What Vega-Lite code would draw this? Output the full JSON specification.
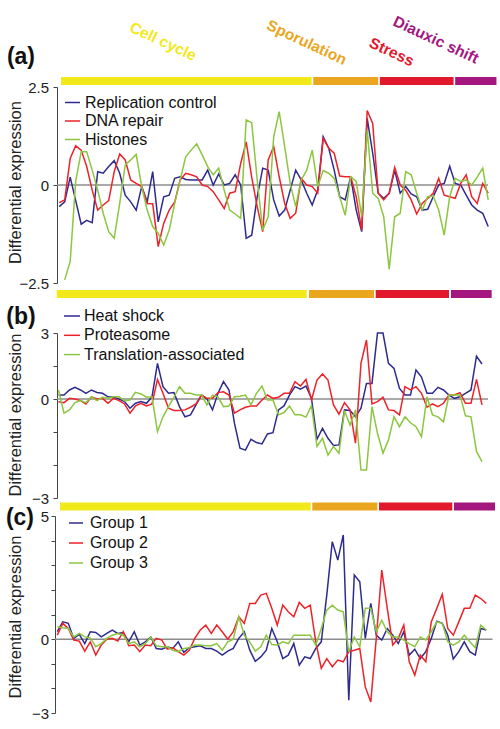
{
  "$schema": "https://vega.github.io/schema/vega-lite/v6.json",
  "width": 440,
  "height": 729,
  "autosize": {"type": "none"},
  "padding": {"left": 57, "top": 0, "right": 3, "bottom": 0},
  "background": "white",
  "config": {
    "view": {"stroke": null},
    "font": "Liberation Sans",
    "axis": {"labelFont": "Liberation Sans", "titleFont": "Liberation Sans", "labelFontSize": 15, "titleFontSize": 16.5, "titleFontWeight": "normal", "labelColor": "#222", "titleColor": "#222", "domainColor": "#444", "tickColor": "#444", "tickSize": 4, "grid": false},
    "legend": {"labelFont": "Liberation Sans", "labelFontSize": 16, "labelColor": "#111", "labelLimit": 0}
  },
  "datasets": {
    "phases": [
      {"panel": "a", "phase": "Cell cycle", "start": 1.33, "end": 46.9},
      {"panel": "a", "phase": "Sporulation", "start": 47.2, "end": 59.0},
      {"panel": "a", "phase": "Stress", "start": 59.3, "end": 72.7},
      {"panel": "a", "phase": "Diauxic shift", "start": 73.0, "end": 80.5},
      {"panel": "b", "phase": "Cell cycle", "start": 0.68, "end": 46.13},
      {"panel": "b", "phase": "Sporulation", "start": 46.55, "end": 58.37},
      {"panel": "b", "phase": "Stress", "start": 58.68, "end": 72.0},
      {"panel": "b", "phase": "Diauxic shift", "start": 72.36, "end": 79.76},
      {"panel": "c", "phase": "Cell cycle", "start": 1.5, "end": 47.08},
      {"panel": "c", "phase": "Sporulation", "start": 47.37, "end": 59.19},
      {"panel": "c", "phase": "Stress", "start": 59.5, "end": 72.82},
      {"panel": "c", "phase": "Diauxic shift", "start": 73.13, "end": 80.59}
    ],
    "phaseLabels": [
      {"phase": "Cell cycle", "lx": 19.87, "ly": 3.66},
      {"phase": "Sporulation", "lx": 46.0, "ly": 3.635},
      {"phase": "Stress", "lx": 61.45, "ly": 3.393},
      {"phase": "Diauxic shift", "lx": 69.5, "ly": 3.70}
    ],
    "a": [
      {"i":1,"Replication control":-0.55,"DNA repair":-0.45,"Histones":null},
      {"i":2,"Replication control":-0.43,"DNA repair":-0.38,"Histones":-2.42},
      {"i":3,"Replication control":0.2,"DNA repair":0.68,"Histones":-1.95},
      {"i":4,"Replication control":-0.4,"DNA repair":1.0,"Histones":0.1},
      {"i":5,"Replication control":-1.0,"DNA repair":0.89,"Histones":0.85},
      {"i":6,"Replication control":-0.9,"DNA repair":0.47,"Histones":0.85},
      {"i":7,"Replication control":-0.96,"DNA repair":-0.13,"Histones":0.38},
      {"i":8,"Replication control":0.34,"DNA repair":-0.64,"Histones":-0.13},
      {"i":9,"Replication control":0.3,"DNA repair":-0.51,"Histones":-0.72},
      {"i":10,"Replication control":0.47,"DNA repair":-0.4,"Histones":-1.19},
      {"i":11,"Replication control":0.62,"DNA repair":0.34,"Histones":-1.36},
      {"i":12,"Replication control":0.3,"DNA repair":0.79,"Histones":-0.47},
      {"i":13,"Replication control":-0.26,"DNA repair":0.64,"Histones":0.51},
      {"i":14,"Replication control":-0.43,"DNA repair":0.13,"Histones":0.64},
      {"i":15,"Replication control":-0.64,"DNA repair":0.04,"Histones":0.78},
      {"i":16,"Replication control":-0.04,"DNA repair":-0.04,"Histones":-0.04},
      {"i":17,"Replication control":-0.43,"DNA repair":-0.47,"Histones":-0.64},
      {"i":18,"Replication control":0.34,"DNA repair":-0.48,"Histones":-1.06},
      {"i":19,"Replication control":-0.94,"DNA repair":-1.57,"Histones":-1.23},
      {"i":20,"Replication control":-0.3,"DNA repair":-0.98,"Histones":-1.53},
      {"i":21,"Replication control":-0.26,"DNA repair":-0.64,"Histones":-1.15},
      {"i":22,"Replication control":0.17,"DNA repair":-0.43,"Histones":-0.47},
      {"i":23,"Replication control":0.21,"DNA repair":0.13,"Histones":0.13},
      {"i":24,"Replication control":0.14,"DNA repair":0.3,"Histones":0.72},
      {"i":25,"Replication control":0.13,"DNA repair":0.26,"Histones":0.89},
      {"i":26,"Replication control":0.13,"DNA repair":0.21,"Histones":1.05},
      {"i":27,"Replication control":0.13,"DNA repair":0.0,"Histones":0.77},
      {"i":28,"Replication control":0.38,"DNA repair":-0.04,"Histones":0.47},
      {"i":29,"Replication control":0.0,"DNA repair":-0.17,"Histones":0.26},
      {"i":30,"Replication control":0.28,"DNA repair":-0.38,"Histones":0.43},
      {"i":31,"Replication control":0.0,"DNA repair":-0.6,"Histones":-0.13},
      {"i":32,"Replication control":0.04,"DNA repair":-0.21,"Histones":-0.64},
      {"i":33,"Replication control":0.26,"DNA repair":-0.17,"Histones":-0.74},
      {"i":34,"Replication control":0.0,"DNA repair":0.55,"Histones":-0.85},
      {"i":35,"Replication control":-1.36,"DNA repair":1.1,"Histones":1.66},
      {"i":36,"Replication control":-1.28,"DNA repair":0.2,"Histones":1.59},
      {"i":37,"Replication control":-0.3,"DNA repair":-0.55,"Histones":0.13},
      {"i":38,"Replication control":0.43,"DNA repair":-1.19,"Histones":-1.15},
      {"i":39,"Replication control":0.38,"DNA repair":0.64,"Histones":-0.81},
      {"i":40,"Replication control":-0.38,"DNA repair":0.98,"Histones":1.23},
      {"i":41,"Replication control":-0.79,"DNA repair":0.21,"Histones":1.87},
      {"i":42,"Replication control":-0.64,"DNA repair":-0.47,"Histones":0.98},
      {"i":43,"Replication control":-0.13,"DNA repair":-0.85,"Histones":0.04},
      {"i":44,"Replication control":0.38,"DNA repair":-0.72,"Histones":-0.55},
      {"i":45,"Replication control":0.13,"DNA repair":0.17,"Histones":0.13},
      {"i":46,"Replication control":-0.21,"DNA repair":0.0,"Histones":0.38},
      {"i":47,"Replication control":-0.51,"DNA repair":-0.04,"Histones":0.89},
      {"i":48,"Replication control":-0.13,"DNA repair":-0.21,"Histones":-0.04},
      {"i":49,"Replication control":1.23,"DNA repair":1.19,"Histones":0.37},
      {"i":50,"Replication control":0.94,"DNA repair":0.94,"Histones":0.3},
      {"i":51,"Replication control":0.38,"DNA repair":0.81,"Histones":0.17},
      {"i":52,"Replication control":-0.3,"DNA repair":0.23,"Histones":-0.3},
      {"i":53,"Replication control":-0.38,"DNA repair":0.21,"Histones":-0.77},
      {"i":54,"Replication control":0.21,"DNA repair":0.21,"Histones":0.21},
      {"i":55,"Replication control":-0.64,"DNA repair":-0.3,"Histones":0.09},
      {"i":56,"Replication control":-1.19,"DNA repair":-1.15,"Histones":-0.81},
      {"i":57,"Replication control":1.7,"DNA repair":1.9,"Histones":1.4},
      {"i":58,"Replication control":0.81,"DNA repair":1.57,"Histones":-0.21},
      {"i":59,"Replication control":-0.21,"DNA repair":-0.21,"Histones":-0.34},
      {"i":60,"Replication control":-0.34,"DNA repair":-0.38,"Histones":-0.81},
      {"i":61,"Replication control":-0.21,"DNA repair":-0.21,"Histones":-2.15},
      {"i":62,"Replication control":0.38,"DNA repair":0.45,"Histones":-0.81},
      {"i":63,"Replication control":-0.21,"DNA repair":0.0,"Histones":-0.72},
      {"i":64,"Replication control":-0.04,"DNA repair":-0.13,"Histones":0.34},
      {"i":65,"Replication control":-0.23,"DNA repair":-0.38,"Histones":0.26},
      {"i":66,"Replication control":-0.3,"DNA repair":-0.74,"Histones":-0.21},
      {"i":67,"Replication control":-0.64,"DNA repair":-0.47,"Histones":-0.64},
      {"i":68,"Replication control":-0.62,"DNA repair":-0.34,"Histones":-0.3},
      {"i":69,"Replication control":-0.3,"DNA repair":-0.21,"Histones":-0.28},
      {"i":70,"Replication control":0.0,"DNA repair":0.17,"Histones":-0.64},
      {"i":71,"Replication control":0.04,"DNA repair":-0.26,"Histones":-1.28},
      {"i":72,"Replication control":0.48,"DNA repair":-0.3,"Histones":-0.3},
      {"i":73,"Replication control":0.04,"DNA repair":-0.34,"Histones":0.17},
      {"i":74,"Replication control":0.0,"DNA repair":0.04,"Histones":0.09},
      {"i":75,"Replication control":-0.26,"DNA repair":0.26,"Histones":0.13},
      {"i":76,"Replication control":-0.51,"DNA repair":-0.3,"Histones":0.0},
      {"i":77,"Replication control":-0.64,"DNA repair":-0.47,"Histones":0.2},
      {"i":78,"Replication control":-0.72,"DNA repair":0.04,"Histones":0.43},
      {"i":79,"Replication control":-1.06,"DNA repair":-0.21,"Histones":-0.38}
    ],
    "b": [
      {"i":1,"Heat shock":0.18,"Proteasome":-0.08,"Translation-associated":0.41},
      {"i":2,"Heat shock":0.18,"Proteasome":-0.11,"Translation-associated":-0.43},
      {"i":3,"Heat shock":0.41,"Proteasome":0.03,"Translation-associated":-0.33},
      {"i":4,"Heat shock":0.53,"Proteasome":0.0,"Translation-associated":-0.11},
      {"i":5,"Heat shock":0.41,"Proteasome":-0.05,"Translation-associated":-0.05},
      {"i":6,"Heat shock":0.26,"Proteasome":-0.15,"Translation-associated":-0.11},
      {"i":7,"Heat shock":0.41,"Proteasome":0.1,"Translation-associated":0.1},
      {"i":8,"Heat shock":0.3,"Proteasome":0.0,"Translation-associated":-0.05},
      {"i":9,"Heat shock":0.26,"Proteasome":0.03,"Translation-associated":0.08},
      {"i":10,"Heat shock":0.1,"Proteasome":-0.13,"Translation-associated":0.03},
      {"i":11,"Heat shock":0.08,"Proteasome":0.03,"Translation-associated":0.1},
      {"i":12,"Heat shock":0.0,"Proteasome":-0.05,"Translation-associated":0.1},
      {"i":13,"Heat shock":-0.08,"Proteasome":-0.15,"Translation-associated":-0.05},
      {"i":14,"Heat shock":-0.28,"Proteasome":-0.43,"Translation-associated":-0.03},
      {"i":15,"Heat shock":-0.13,"Proteasome":-0.21,"Translation-associated":0.3},
      {"i":16,"Heat shock":-0.08,"Proteasome":-0.13,"Translation-associated":0.23},
      {"i":17,"Heat shock":-0.13,"Proteasome":-0.21,"Translation-associated":0.08},
      {"i":18,"Heat shock":0.1,"Proteasome":-0.15,"Translation-associated":0.1},
      {"i":19,"Heat shock":1.62,"Proteasome":0.89,"Translation-associated":-0.99},
      {"i":20,"Heat shock":0.56,"Proteasome":0.26,"Translation-associated":-0.54},
      {"i":21,"Heat shock":0.26,"Proteasome":-0.28,"Translation-associated":-0.23},
      {"i":22,"Heat shock":0.29,"Proteasome":-0.35,"Translation-associated":0.08},
      {"i":23,"Heat shock":-0.23,"Proteasome":-0.35,"Translation-associated":0.56},
      {"i":24,"Heat shock":-0.54,"Proteasome":-0.33,"Translation-associated":0.26},
      {"i":25,"Heat shock":-0.48,"Proteasome":-0.25,"Translation-associated":0.26},
      {"i":26,"Heat shock":-0.18,"Proteasome":-0.15,"Translation-associated":0.18},
      {"i":27,"Heat shock":0.18,"Proteasome":0.18,"Translation-associated":0.18},
      {"i":28,"Heat shock":0.0,"Proteasome":0.03,"Translation-associated":-0.18},
      {"i":29,"Heat shock":-0.33,"Proteasome":0.03,"Translation-associated":0.18},
      {"i":30,"Heat shock":0.26,"Proteasome":0.29,"Translation-associated":0.1},
      {"i":31,"Heat shock":0.79,"Proteasome":0.33,"Translation-associated":-0.23},
      {"i":32,"Heat shock":0.41,"Proteasome":0.18,"Translation-associated":-0.21},
      {"i":33,"Heat shock":-0.74,"Proteasome":-0.43,"Translation-associated":0.1},
      {"i":34,"Heat shock":-1.49,"Proteasome":-0.33,"Translation-associated":0.13},
      {"i":35,"Heat shock":-1.55,"Proteasome":-0.25,"Translation-associated":0.18},
      {"i":36,"Heat shock":-1.22,"Proteasome":-0.21,"Translation-associated":-0.18},
      {"i":37,"Heat shock":-1.32,"Proteasome":-0.21,"Translation-associated":0.26},
      {"i":38,"Heat shock":-1.36,"Proteasome":-0.03,"Translation-associated":0.59},
      {"i":39,"Heat shock":-1.06,"Proteasome":0.18,"Translation-associated":-0.03},
      {"i":40,"Heat shock":-1.02,"Proteasome":0.03,"Translation-associated":-0.03},
      {"i":41,"Heat shock":-0.33,"Proteasome":0.08,"Translation-associated":-0.48},
      {"i":42,"Heat shock":-0.21,"Proteasome":0.26,"Translation-associated":-0.41},
      {"i":43,"Heat shock":0.18,"Proteasome":0.26,"Translation-associated":-0.21},
      {"i":44,"Heat shock":0.56,"Proteasome":0.79,"Translation-associated":-0.48},
      {"i":45,"Heat shock":0.45,"Proteasome":0.59,"Translation-associated":-0.48},
      {"i":46,"Heat shock":0.59,"Proteasome":0.89,"Translation-associated":-0.55},
      {"i":47,"Heat shock":0.03,"Proteasome":-0.03,"Translation-associated":-0.2},
      {"i":48,"Heat shock":-1.22,"Proteasome":0.86,"Translation-associated":-1.44},
      {"i":49,"Heat shock":-0.89,"Proteasome":1.14,"Translation-associated":-1.19},
      {"i":50,"Heat shock":-1.19,"Proteasome":0.86,"Translation-associated":-1.7},
      {"i":51,"Heat shock":-1.41,"Proteasome":-0.18,"Translation-associated":-1.44},
      {"i":52,"Heat shock":-1.39,"Proteasome":-0.46,"Translation-associated":-1.64},
      {"i":53,"Heat shock":-0.33,"Proteasome":-0.11,"Translation-associated":-0.35},
      {"i":54,"Heat shock":-0.35,"Proteasome":-0.33,"Translation-associated":-0.79},
      {"i":55,"Heat shock":-0.54,"Proteasome":-1.34,"Translation-associated":-0.33},
      {"i":56,"Heat shock":-0.28,"Proteasome":1.62,"Translation-associated":-2.15},
      {"i":57,"Heat shock":0.71,"Proteasome":2.68,"Translation-associated":-2.15},
      {"i":58,"Heat shock":0.71,"Proteasome":-0.15,"Translation-associated":-0.23},
      {"i":59,"Heat shock":3.0,"Proteasome":-0.08,"Translation-associated":-1.04},
      {"i":60,"Heat shock":3.0,"Proteasome":0.08,"Translation-associated":-1.64},
      {"i":61,"Heat shock":1.62,"Proteasome":-0.33,"Translation-associated":-1.24},
      {"i":62,"Heat shock":1.39,"Proteasome":-0.35,"Translation-associated":-0.54},
      {"i":63,"Heat shock":0.48,"Proteasome":-0.48,"Translation-associated":-0.84},
      {"i":64,"Heat shock":0.18,"Proteasome":0.56,"Translation-associated":-0.54},
      {"i":65,"Heat shock":0.18,"Proteasome":0.41,"Translation-associated":-0.72},
      {"i":66,"Heat shock":1.32,"Proteasome":0.56,"Translation-associated":-0.84},
      {"i":67,"Heat shock":1.0,"Proteasome":0.26,"Translation-associated":-1.14},
      {"i":68,"Heat shock":0.26,"Proteasome":-0.25,"Translation-associated":0.1},
      {"i":69,"Heat shock":0.26,"Proteasome":-0.15,"Translation-associated":-0.48},
      {"i":70,"Heat shock":0.53,"Proteasome":-0.23,"Translation-associated":-0.54},
      {"i":71,"Heat shock":0.41,"Proteasome":-0.13,"Translation-associated":-0.69},
      {"i":72,"Heat shock":0.18,"Proteasome":0.18,"Translation-associated":0.18},
      {"i":73,"Heat shock":0.03,"Proteasome":0.18,"Translation-associated":0.18},
      {"i":74,"Heat shock":0.1,"Proteasome":0.29,"Translation-associated":0.18},
      {"i":75,"Heat shock":0.26,"Proteasome":-0.13,"Translation-associated":-0.51},
      {"i":76,"Heat shock":0.41,"Proteasome":-0.13,"Translation-associated":-0.54},
      {"i":77,"Heat shock":1.95,"Proteasome":0.89,"Translation-associated":-1.59},
      {"i":78,"Heat shock":1.59,"Proteasome":-0.18,"Translation-associated":-1.9}
    ],
    "c": [
      {"i":1,"Group 1":0.3,"Group 2":0.16,"Group 3":0.5},
      {"i":2,"Group 1":0.7,"Group 2":0.64,"Group 3":0.46},
      {"i":3,"Group 1":0.64,"Group 2":0.43,"Group 3":0.43},
      {"i":4,"Group 1":0.03,"Group 2":-0.04,"Group 3":0.09},
      {"i":5,"Group 1":0.19,"Group 2":-0.08,"Group 3":0.23},
      {"i":6,"Group 1":-0.18,"Group 2":-0.49,"Group 3":0.09},
      {"i":7,"Group 1":0.3,"Group 2":-0.11,"Group 3":0.05},
      {"i":8,"Group 1":0.27,"Group 2":-0.65,"Group 3":-0.31},
      {"i":9,"Group 1":0.09,"Group 2":-0.24,"Group 3":-0.18},
      {"i":10,"Group 1":0.23,"Group 2":0.0,"Group 3":0.03},
      {"i":11,"Group 1":0.37,"Group 2":0.03,"Group 3":0.16},
      {"i":12,"Group 1":0.23,"Group 2":-0.08,"Group 3":0.23},
      {"i":13,"Group 1":0.27,"Group 2":0.3,"Group 3":0.16},
      {"i":14,"Group 1":-0.11,"Group 2":-0.27,"Group 3":-0.18},
      {"i":15,"Group 1":0.3,"Group 2":-0.24,"Group 3":-0.11},
      {"i":16,"Group 1":-0.24,"Group 2":-0.51,"Group 3":-0.31},
      {"i":17,"Group 1":-0.11,"Group 2":-0.24,"Group 3":-0.18},
      {"i":18,"Group 1":0.09,"Group 2":-0.27,"Group 3":0.09},
      {"i":19,"Group 1":-0.38,"Group 2":0.03,"Group 3":-0.27},
      {"i":20,"Group 1":-0.41,"Group 2":-0.04,"Group 3":-0.31},
      {"i":21,"Group 1":-0.31,"Group 2":-0.41,"Group 3":-0.31},
      {"i":22,"Group 1":-0.38,"Group 2":-0.35,"Group 3":-0.45},
      {"i":23,"Group 1":-0.11,"Group 2":-0.51,"Group 3":-0.51},
      {"i":24,"Group 1":-0.54,"Group 2":-0.65,"Group 3":-0.38},
      {"i":25,"Group 1":-0.35,"Group 2":-0.45,"Group 3":-0.35},
      {"i":26,"Group 1":-0.31,"Group 2":0.03,"Group 3":-0.24},
      {"i":27,"Group 1":-0.27,"Group 2":0.37,"Group 3":-0.24},
      {"i":28,"Group 1":-0.38,"Group 2":0.57,"Group 3":-0.27},
      {"i":29,"Group 1":-0.38,"Group 2":0.23,"Group 3":-0.27},
      {"i":30,"Group 1":-0.49,"Group 2":0.57,"Group 3":-0.18},
      {"i":31,"Group 1":-0.65,"Group 2":0.3,"Group 3":-0.45},
      {"i":32,"Group 1":-0.49,"Group 2":0.0,"Group 3":-0.11},
      {"i":33,"Group 1":-0.38,"Group 2":0.3,"Group 3":0.0},
      {"i":34,"Group 1":0.03,"Group 2":0.91,"Group 3":0.91},
      {"i":35,"Group 1":0.3,"Group 2":0.64,"Group 3":0.16},
      {"i":36,"Group 1":-0.45,"Group 2":1.45,"Group 3":-0.11},
      {"i":37,"Group 1":-0.9,"Group 2":1.45,"Group 3":-0.49},
      {"i":38,"Group 1":-0.72,"Group 2":1.79,"Group 3":-0.31},
      {"i":39,"Group 1":-0.45,"Group 2":1.86,"Group 3":0.16},
      {"i":40,"Group 1":0.43,"Group 2":1.25,"Group 3":-0.22},
      {"i":41,"Group 1":-0.11,"Group 2":0.57,"Group 3":-0.24},
      {"i":42,"Group 1":-0.79,"Group 2":1.38,"Group 3":-0.11},
      {"i":43,"Group 1":-0.65,"Group 2":1.11,"Group 3":-0.18},
      {"i":44,"Group 1":-0.18,"Group 2":0.91,"Group 3":0.16},
      {"i":45,"Group 1":-1.06,"Group 2":1.49,"Group 3":0.16},
      {"i":46,"Group 1":-0.72,"Group 2":1.25,"Group 3":0.16},
      {"i":47,"Group 1":-0.79,"Group 2":1.38,"Group 3":0.16},
      {"i":48,"Group 1":-0.38,"Group 2":-0.11,"Group 3":-0.24},
      {"i":49,"Group 1":-0.11,"Group 2":-1.19,"Group 3":0.43},
      {"i":50,"Group 1":1.79,"Group 2":-0.79,"Group 3":1.18},
      {"i":51,"Group 1":3.96,"Group 2":-1.12,"Group 3":1.38},
      {"i":52,"Group 1":3.21,"Group 2":-0.85,"Group 3":1.18},
      {"i":53,"Group 1":4.23,"Group 2":-0.92,"Group 3":1.11},
      {"i":54,"Group 1":-2.48,"Group 2":-0.51,"Group 3":-0.51},
      {"i":55,"Group 1":2.6,"Group 2":-0.45,"Group 3":0.09},
      {"i":56,"Group 1":2.33,"Group 2":-0.38,"Group 3":-0.31},
      {"i":57,"Group 1":0.03,"Group 2":-1.94,"Group 3":1.25},
      {"i":58,"Group 1":1.45,"Group 2":-2.55,"Group 3":1.25},
      {"i":59,"Group 1":0.16,"Group 2":0.03,"Group 3":0.3},
      {"i":60,"Group 1":-0.04,"Group 2":2.8,"Group 3":0.77},
      {"i":61,"Group 1":0.43,"Group 2":1.25,"Group 3":0.3},
      {"i":62,"Group 1":0.16,"Group 2":-0.24,"Group 3":0.09},
      {"i":63,"Group 1":-0.18,"Group 2":0.03,"Group 3":0.09},
      {"i":64,"Group 1":0.3,"Group 2":0.57,"Group 3":-0.04},
      {"i":65,"Group 1":-0.65,"Group 2":-0.92,"Group 3":-0.18},
      {"i":66,"Group 1":-0.41,"Group 2":-1.46,"Group 3":-0.31},
      {"i":67,"Group 1":-0.79,"Group 2":-0.65,"Group 3":0.09},
      {"i":68,"Group 1":-0.51,"Group 2":-0.92,"Group 3":-0.04},
      {"i":69,"Group 1":0.03,"Group 2":0.7,"Group 3":0.3},
      {"i":70,"Group 1":0.73,"Group 2":1.25,"Group 3":0.7},
      {"i":71,"Group 1":0.64,"Group 2":1.82,"Group 3":0.64},
      {"i":72,"Group 1":0.16,"Group 2":0.43,"Group 3":-0.11},
      {"i":73,"Group 1":-0.81,"Group 2":0.16,"Group 3":-0.24},
      {"i":74,"Group 1":-0.51,"Group 2":0.7,"Group 3":-0.11},
      {"i":75,"Group 1":-0.11,"Group 2":1.25,"Group 3":0.16},
      {"i":76,"Group 1":-0.51,"Group 2":1.25,"Group 3":-0.11},
      {"i":77,"Group 1":-0.65,"Group 2":1.79,"Group 3":-0.35},
      {"i":78,"Group 1":0.43,"Group 2":1.65,"Group 3":0.57},
      {"i":79,"Group 1":0.37,"Group 2":1.45,"Group 3":0.37}
    ]
  },
  "resolve": {
    "scale": {"x": "independent", "y": "independent", "color": "independent"},
    "axis": {"x": "independent", "y": "independent"},
    "legend": {"color": "independent"}
  },
  "layer": [
    {
      "layer": [
        {
          "data": {"name": "phases"},
          "transform": [{"filter": "datum.panel == 'a'"}],
          "mark": {"type": "rule", "strokeWidth": 8},
          "encoding": {
            "x": {"field": "start", "type": "quantitative", "scale": {"domain": [0.6, 80.6], "nice": false, "zero": false}, "axis": null},
            "x2": {"field": "end"},
            "y": {"datum": 2.653, "type": "quantitative", "scale": {"domain": [-2.5, 2.5], "range": [283, 87], "nice": false, "zero": false},
              "axis": {"orient": "left", "values": [-2.5, 0, 2.5], "format": ".1~f", "title": "Differential expression", "titleX": -36.5, "titleY": 182, "titleAngle": -90, "titleBaseline": "alphabetic", "titleAlign": "center", "labelPadding": 4.5, "tickSize": 4}},
            "stroke": {"field": "phase", "type": "nominal", "scale": {"domain": ["Cell cycle", "Sporulation", "Stress", "Diauxic shift"], "range": ["#f2e91a", "#eaa61e", "#e2182d", "#a3177f"]}, "legend": null}
          }
        },
        {
          "data": {"name": "phaseLabels"},
          "mark": {"type": "text", "angle": 25, "fontWeight": "bold", "fontSize": 15.5, "align": "center", "baseline": "middle", "font": "Liberation Sans"},
          "encoding": {
            "x": {"field": "lx", "type": "quantitative", "scale": {"domain": [0.6, 80.6], "nice": false, "zero": false}, "axis": null},
            "y": {"field": "ly", "type": "quantitative", "scale": {"domain": [-2.5, 2.5], "range": [283, 87], "nice": false, "zero": false},
              "axis": {"orient": "left", "values": [-2.5, 0, 2.5], "format": ".1~f", "title": "Differential expression", "titleX": -36.5, "titleY": 182, "titleAngle": -90, "titleBaseline": "alphabetic", "titleAlign": "center", "labelPadding": 4.5, "tickSize": 4}},
            "text": {"field": "phase"},
            "fill": {"field": "phase", "type": "nominal", "scale": {"domain": ["Cell cycle", "Sporulation", "Stress", "Diauxic shift"], "range": ["#f2e91a", "#eaa61e", "#e2182d", "#a3177f"]}, "legend": null}
          }
        },
        {
          "data": {"values": [{"tag": "(a)"}]},
          "mark": {"type": "text", "fontWeight": "bold", "fontSize": 23, "align": "center", "baseline": "middle", "color": "#111", "font": "Liberation Sans"},
          "encoding": {
            "x": {"datum": -5.95, "type": "quantitative", "scale": {"domain": [0.6, 80.6], "nice": false, "zero": false}, "axis": null},
            "y": {"datum": 3.253, "type": "quantitative", "scale": {"domain": [-2.5, 2.5], "range": [283, 87], "nice": false, "zero": false},
              "axis": {"orient": "left", "values": [-2.5, 0, 2.5], "format": ".1~f", "title": "Differential expression", "titleX": -36.5, "titleY": 182, "titleAngle": -90, "titleBaseline": "alphabetic", "titleAlign": "center", "labelPadding": 4.5, "tickSize": 4}},
            "text": {"field": "tag"}
          }
        },
        {
          "data": {"values": [{"ref": "zero"}]},
          "mark": {"type": "rule", "color": "#8c8c8c", "strokeWidth": 1.5},
          "encoding": {
            "x": {"datum": 0.6, "type": "quantitative", "scale": {"domain": [0.6, 80.6], "nice": false, "zero": false}, "axis": null},
            "x2": {"datum": 78.96},
            "y": {"datum": 0, "type": "quantitative", "scale": {"domain": [-2.5, 2.5], "range": [283, 87], "nice": false, "zero": false},
              "axis": {"orient": "left", "values": [-2.5, 0, 2.5], "format": ".1~f", "title": "Differential expression", "titleX": -36.5, "titleY": 182, "titleAngle": -90, "titleBaseline": "alphabetic", "titleAlign": "center", "labelPadding": 4.5, "tickSize": 4}}
          }
        },
        {
          "data": {"name": "a"},
          "transform": [{"fold": ["Replication control", "DNA repair", "Histones"], "as": ["series", "value"]}],
          "mark": {"type": "line", "strokeWidth": 1.5},
          "encoding": {
            "x": {"field": "i", "type": "quantitative", "scale": {"domain": [0.6, 80.6], "nice": false, "zero": false}, "axis": null},
            "y": {"field": "value", "type": "quantitative", "scale": {"domain": [-2.5, 2.5], "range": [283, 87], "nice": false, "zero": false},
              "axis": {"orient": "left", "values": [-2.5, 0, 2.5], "format": ".1~f", "title": "Differential expression", "titleX": -36.5, "titleY": 182, "titleAngle": -90, "titleBaseline": "alphabetic", "titleAlign": "center", "labelPadding": 4.5, "tickSize": 4}},
            "color": {"field": "series", "type": "nominal", "scale": {"domain": ["Replication control", "DNA repair", "Histones"], "range": ["#2e2b8f", "#ee2229", "#8cc63f"]},
              "legend": {"orient": "none", "legendX": 7, "legendY": 94, "title": null, "symbolType": "stroke", "symbolSize": 225, "symbolStrokeWidth": 1.5, "labelFontSize": 16, "labelOffset": 4, "rowPadding": 1.5, "padding": 0, "labelLimit": 0}}
          }
        }
      ]
    },
    {
      "layer": [
        {
          "data": {"name": "phases"},
          "transform": [{"filter": "datum.panel == 'b'"}],
          "mark": {"type": "rule", "strokeWidth": 8},
          "encoding": {
            "x": {"field": "start", "type": "quantitative", "scale": {"domain": [0.73, 80.73], "nice": false, "zero": false}, "axis": null},
            "x2": {"field": "end"},
            "y": {"datum": 4.77, "type": "quantitative", "scale": {"domain": [-3, 0, 3], "range": [498, 399, 333], "nice": false, "zero": false},
              "axis": {"orient": "left", "values": [-3, -2, -1, 0, 1.5, 3], "format": ".1~f", "labelExpr": "datum.value == 3 || datum.value == 0 || datum.value == -3 ? datum.label : ''", "title": "Differential expression", "titleX": -36.5, "titleY": 414.5, "titleAngle": -90, "titleBaseline": "alphabetic", "titleAlign": "center", "labelPadding": 4.5, "tickSize": 4}},
            "stroke": {"field": "phase", "type": "nominal", "scale": {"domain": ["Cell cycle", "Sporulation", "Stress", "Diauxic shift"], "range": ["#f2e91a", "#eaa61e", "#e2182d", "#a3177f"]}, "legend": null}
          }
        },
        {
          "data": {"values": [{"tag": "(b)"}]},
          "mark": {"type": "text", "fontWeight": "bold", "fontSize": 23, "align": "center", "baseline": "middle", "color": "#111", "font": "Liberation Sans"},
          "encoding": {
            "x": {"datum": -5.82, "type": "quantitative", "scale": {"domain": [0.73, 80.73], "nice": false, "zero": false}, "axis": null},
            "y": {"datum": 3.75, "type": "quantitative", "scale": {"domain": [-3, 0, 3], "range": [498, 399, 333], "nice": false, "zero": false},
              "axis": {"orient": "left", "values": [-3, -2, -1, 0, 1.5, 3], "format": ".1~f", "labelExpr": "datum.value == 3 || datum.value == 0 || datum.value == -3 ? datum.label : ''", "title": "Differential expression", "titleX": -36.5, "titleY": 414.5, "titleAngle": -90, "titleBaseline": "alphabetic", "titleAlign": "center", "labelPadding": 4.5, "tickSize": 4}},
            "text": {"field": "tag"}
          }
        },
        {
          "data": {"values": [{"ref": "zero"}]},
          "mark": {"type": "rule", "color": "#8c8c8c", "strokeWidth": 1.5},
          "encoding": {
            "x": {"datum": 0.73, "type": "quantitative", "scale": {"domain": [0.73, 80.73], "nice": false, "zero": false}, "axis": null},
            "x2": {"datum": 79.09},
            "y": {"datum": 0, "type": "quantitative", "scale": {"domain": [-3, 0, 3], "range": [498, 399, 333], "nice": false, "zero": false},
              "axis": {"orient": "left", "values": [-3, -2, -1, 0, 1.5, 3], "format": ".1~f", "labelExpr": "datum.value == 3 || datum.value == 0 || datum.value == -3 ? datum.label : ''", "title": "Differential expression", "titleX": -36.5, "titleY": 414.5, "titleAngle": -90, "titleBaseline": "alphabetic", "titleAlign": "center", "labelPadding": 4.5, "tickSize": 4}}
          }
        },
        {
          "data": {"name": "b"},
          "transform": [{"fold": ["Heat shock", "Proteasome", "Translation-associated"], "as": ["series", "value"]}],
          "mark": {"type": "line", "strokeWidth": 1.5},
          "encoding": {
            "x": {"field": "i", "type": "quantitative", "scale": {"domain": [0.73, 80.73], "nice": false, "zero": false}, "axis": null},
            "y": {"field": "value", "type": "quantitative", "scale": {"domain": [-3, 0, 3], "range": [498, 399, 333], "nice": false, "zero": false},
              "axis": {"orient": "left", "values": [-3, -2, -1, 0, 1.5, 3], "format": ".1~f", "labelExpr": "datum.value == 3 || datum.value == 0 || datum.value == -3 ? datum.label : ''", "title": "Differential expression", "titleX": -36.5, "titleY": 414.5, "titleAngle": -90, "titleBaseline": "alphabetic", "titleAlign": "center", "labelPadding": 4.5, "tickSize": 4}},
            "color": {"field": "series", "type": "nominal", "scale": {"domain": ["Heat shock", "Proteasome", "Translation-associated"], "range": ["#2e2b8f", "#ee2229", "#8cc63f"]},
              "legend": {"orient": "none", "legendX": 6, "legendY": 307, "title": null, "symbolType": "stroke", "symbolSize": 256, "symbolStrokeWidth": 1.5, "labelFontSize": 16, "labelOffset": 3, "rowPadding": 2.3, "padding": 0, "labelLimit": 0}}
          }
        }
      ]
    },
    {
      "layer": [
        {
          "data": {"name": "phases"},
          "transform": [{"filter": "datum.panel == 'c'"}],
          "mark": {"type": "rule", "strokeWidth": 8},
          "encoding": {
            "x": {"field": "start", "type": "quantitative", "scale": {"domain": [0.95, 80.95], "nice": false, "zero": false}, "axis": null},
            "x2": {"field": "end"},
            "y": {"datum": 5.39, "type": "quantitative", "scale": {"domain": [-3, 5], "range": [713, 516], "nice": false, "zero": false},
              "axis": {"orient": "left", "values": [-3, -2, -1, 0, 1, 2, 3, 4, 5], "format": ".1~f", "labelExpr": "datum.value == 5 || datum.value == 0 || datum.value == -3 ? datum.label : ''", "offset": 2, "title": "Differential expression", "titleX": -34.5, "titleY": 616.5, "titleAngle": -90, "titleBaseline": "alphabetic", "titleAlign": "center", "labelPadding": 2.5, "tickSize": 4}},
            "stroke": {"field": "phase", "type": "nominal", "scale": {"domain": ["Cell cycle", "Sporulation", "Stress", "Diauxic shift"], "range": ["#f2e91a", "#eaa61e", "#e2182d", "#a3177f"]}, "legend": null}
          }
        },
        {
          "data": {"values": [{"tag": "(c)"}]},
          "mark": {"type": "text", "fontWeight": "bold", "fontSize": 23, "align": "center", "baseline": "middle", "color": "#111", "font": "Liberation Sans"},
          "encoding": {
            "x": {"datum": -5.78, "type": "quantitative", "scale": {"domain": [0.95, 80.95], "nice": false, "zero": false}, "axis": null},
            "y": {"datum": 4.92, "type": "quantitative", "scale": {"domain": [-3, 5], "range": [713, 516], "nice": false, "zero": false},
              "axis": {"orient": "left", "values": [-3, -2, -1, 0, 1, 2, 3, 4, 5], "format": ".1~f", "labelExpr": "datum.value == 5 || datum.value == 0 || datum.value == -3 ? datum.label : ''", "offset": 2, "title": "Differential expression", "titleX": -34.5, "titleY": 616.5, "titleAngle": -90, "titleBaseline": "alphabetic", "titleAlign": "center", "labelPadding": 2.5, "tickSize": 4}},
            "text": {"field": "tag"}
          }
        },
        {
          "data": {"values": [{"ref": "zero"}]},
          "mark": {"type": "rule", "color": "#8c8c8c", "strokeWidth": 1.5},
          "encoding": {
            "x": {"datum": 0.59, "type": "quantitative", "scale": {"domain": [0.95, 80.95], "nice": false, "zero": false}, "axis": null},
            "x2": {"datum": 80.13},
            "y": {"datum": 0, "type": "quantitative", "scale": {"domain": [-3, 5], "range": [713, 516], "nice": false, "zero": false},
              "axis": {"orient": "left", "values": [-3, -2, -1, 0, 1, 2, 3, 4, 5], "format": ".1~f", "labelExpr": "datum.value == 5 || datum.value == 0 || datum.value == -3 ? datum.label : ''", "offset": 2, "title": "Differential expression", "titleX": -34.5, "titleY": 616.5, "titleAngle": -90, "titleBaseline": "alphabetic", "titleAlign": "center", "labelPadding": 2.5, "tickSize": 4}}
          }
        },
        {
          "data": {"name": "c"},
          "transform": [{"fold": ["Group 1", "Group 2", "Group 3"], "as": ["series", "value"]}],
          "mark": {"type": "line", "strokeWidth": 1.5},
          "encoding": {
            "x": {"field": "i", "type": "quantitative", "scale": {"domain": [0.95, 80.95], "nice": false, "zero": false}, "axis": null},
            "y": {"field": "value", "type": "quantitative", "scale": {"domain": [-3, 5], "range": [713, 516], "nice": false, "zero": false},
              "axis": {"orient": "left", "values": [-3, -2, -1, 0, 1, 2, 3, 4, 5], "format": ".1~f", "labelExpr": "datum.value == 5 || datum.value == 0 || datum.value == -3 ? datum.label : ''", "offset": 2, "title": "Differential expression", "titleX": -34.5, "titleY": 616.5, "titleAngle": -90, "titleBaseline": "alphabetic", "titleAlign": "center", "labelPadding": 2.5, "tickSize": 4}},
            "color": {"field": "series", "type": "nominal", "scale": {"domain": ["Group 1", "Group 2", "Group 3"], "range": ["#2e2b8f", "#ee2229", "#8cc63f"]},
              "legend": {"orient": "none", "legendX": 11, "legendY": 515, "title": null, "symbolType": "stroke", "symbolSize": 196, "symbolStrokeWidth": 1.5, "labelFontSize": 16, "labelOffset": 6, "rowPadding": 4, "padding": 0, "labelLimit": 0}}
          }
        }
      ]
    }
  ]
}
